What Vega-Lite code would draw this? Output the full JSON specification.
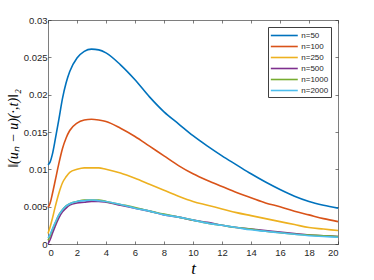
{
  "$schema": "https://vega.github.io/schema/vega-lite/v6.json",
  "width": 290,
  "height": 224,
  "autosize": "none",
  "padding": {"left": 48, "top": 20, "right": 36, "bottom": 36},
  "background": "white",
  "config": {
    "view": {"stroke": null},
    "axis": {
      "domainColor": "#262626",
      "domainWidth": 0.6,
      "tickColor": "#262626",
      "tickWidth": 0.6,
      "tickSize": -3,
      "grid": false,
      "labelFont": "Liberation Sans",
      "labelFontSize": 9.5,
      "labelColor": "#262626",
      "titleColor": "#000000",
      "titleFont": "Liberation Serif",
      "titleFontStyle": "italic",
      "titleFontWeight": "normal"
    },
    "legend": {
      "symbolType": "M-2.45,0H2.45",
      "symbolStrokeWidth": 1.6,
      "symbolSize": 121,
      "symbolOffset": 7.8,
      "labelFont": "Liberation Sans",
      "labelFontSize": 8,
      "labelColor": "#262626",
      "strokeColor": "#404040",
      "fillColor": "white",
      "padding": 2,
      "rowPadding": 0,
      "labelOffset": 10.5,
      "cornerRadius": 0
    }
  },
  "data": {
    "values": [
      {"s": "n=50", "t": 0, "v": 0.0106},
      {"s": "n=50", "t": 0.15, "v": 0.0110},
      {"s": "n=50", "t": 0.3, "v": 0.0120},
      {"s": "n=50", "t": 0.5, "v": 0.0140},
      {"s": "n=50", "t": 0.75, "v": 0.0167},
      {"s": "n=50", "t": 1.0, "v": 0.0195},
      {"s": "n=50", "t": 1.25, "v": 0.0216},
      {"s": "n=50", "t": 1.5, "v": 0.0231},
      {"s": "n=50", "t": 2.0, "v": 0.0249},
      {"s": "n=50", "t": 2.5, "v": 0.0258},
      {"s": "n=50", "t": 3.0, "v": 0.0261},
      {"s": "n=50", "t": 3.5, "v": 0.0260},
      {"s": "n=50", "t": 4, "v": 0.0256},
      {"s": "n=50", "t": 5, "v": 0.0240},
      {"s": "n=50", "t": 6, "v": 0.0220},
      {"s": "n=50", "t": 7, "v": 0.0197},
      {"s": "n=50", "t": 8, "v": 0.0177},
      {"s": "n=50", "t": 9, "v": 0.0161},
      {"s": "n=50", "t": 10, "v": 0.0145},
      {"s": "n=50", "t": 11, "v": 0.0131},
      {"s": "n=50", "t": 12, "v": 0.0118},
      {"s": "n=50", "t": 13, "v": 0.0106},
      {"s": "n=50", "t": 14, "v": 0.0094},
      {"s": "n=50", "t": 15, "v": 0.0083},
      {"s": "n=50", "t": 16, "v": 0.0073},
      {"s": "n=50", "t": 17, "v": 0.0064},
      {"s": "n=50", "t": 18, "v": 0.0057},
      {"s": "n=50", "t": 19, "v": 0.0052},
      {"s": "n=50", "t": 20, "v": 0.0048},

      {"s": "n=100", "t": 0, "v": 0.0049},
      {"s": "n=100", "t": 0.15, "v": 0.0055},
      {"s": "n=100", "t": 0.3, "v": 0.0067},
      {"s": "n=100", "t": 0.5, "v": 0.0085},
      {"s": "n=100", "t": 0.75, "v": 0.0108},
      {"s": "n=100", "t": 1.0, "v": 0.0128},
      {"s": "n=100", "t": 1.25, "v": 0.0142},
      {"s": "n=100", "t": 1.5, "v": 0.0152},
      {"s": "n=100", "t": 2.0, "v": 0.0162},
      {"s": "n=100", "t": 2.5, "v": 0.0166},
      {"s": "n=100", "t": 3.0, "v": 0.0167},
      {"s": "n=100", "t": 3.5, "v": 0.0166},
      {"s": "n=100", "t": 4, "v": 0.0164},
      {"s": "n=100", "t": 5, "v": 0.0155},
      {"s": "n=100", "t": 6, "v": 0.0144},
      {"s": "n=100", "t": 7, "v": 0.0131},
      {"s": "n=100", "t": 8, "v": 0.0118},
      {"s": "n=100", "t": 9, "v": 0.0105},
      {"s": "n=100", "t": 10, "v": 0.0094},
      {"s": "n=100", "t": 11, "v": 0.0085},
      {"s": "n=100", "t": 12, "v": 0.0077},
      {"s": "n=100", "t": 13, "v": 0.0069},
      {"s": "n=100", "t": 14, "v": 0.0062},
      {"s": "n=100", "t": 15, "v": 0.0055},
      {"s": "n=100", "t": 16, "v": 0.0050},
      {"s": "n=100", "t": 17, "v": 0.0044},
      {"s": "n=100", "t": 18, "v": 0.0039},
      {"s": "n=100", "t": 19, "v": 0.0034},
      {"s": "n=100", "t": 20, "v": 0.0030},

      {"s": "n=250", "t": 0, "v": 0.0014},
      {"s": "n=250", "t": 0.15, "v": 0.0023},
      {"s": "n=250", "t": 0.3, "v": 0.0034},
      {"s": "n=250", "t": 0.5, "v": 0.0050},
      {"s": "n=250", "t": 0.75, "v": 0.0068},
      {"s": "n=250", "t": 1.0, "v": 0.0082},
      {"s": "n=250", "t": 1.25, "v": 0.0090},
      {"s": "n=250", "t": 1.5, "v": 0.0096},
      {"s": "n=250", "t": 2.0, "v": 0.0100},
      {"s": "n=250", "t": 2.5, "v": 0.0102},
      {"s": "n=250", "t": 3.0, "v": 0.0102},
      {"s": "n=250", "t": 3.5, "v": 0.0102},
      {"s": "n=250", "t": 4, "v": 0.0100},
      {"s": "n=250", "t": 5, "v": 0.0095},
      {"s": "n=250", "t": 6, "v": 0.0088},
      {"s": "n=250", "t": 7, "v": 0.0080},
      {"s": "n=250", "t": 8, "v": 0.0072},
      {"s": "n=250", "t": 9, "v": 0.0064},
      {"s": "n=250", "t": 10, "v": 0.0057},
      {"s": "n=250", "t": 11, "v": 0.0052},
      {"s": "n=250", "t": 12, "v": 0.0047},
      {"s": "n=250", "t": 13, "v": 0.0042},
      {"s": "n=250", "t": 14, "v": 0.0038},
      {"s": "n=250", "t": 15, "v": 0.0034},
      {"s": "n=250", "t": 16, "v": 0.0030},
      {"s": "n=250", "t": 17, "v": 0.0026},
      {"s": "n=250", "t": 18, "v": 0.0022},
      {"s": "n=250", "t": 19, "v": 0.0020},
      {"s": "n=250", "t": 20, "v": 0.0018},

      {"s": "n=500", "t": 0, "v": 0.0000},
      {"s": "n=500", "t": 0.15, "v": 0.0006},
      {"s": "n=500", "t": 0.3, "v": 0.0014},
      {"s": "n=500", "t": 0.5, "v": 0.0024},
      {"s": "n=500", "t": 0.75, "v": 0.0035},
      {"s": "n=500", "t": 1.0, "v": 0.0043},
      {"s": "n=500", "t": 1.25, "v": 0.0048},
      {"s": "n=500", "t": 1.5, "v": 0.0052},
      {"s": "n=500", "t": 2.0, "v": 0.0055},
      {"s": "n=500", "t": 2.5, "v": 0.0056},
      {"s": "n=500", "t": 3.0, "v": 0.0057},
      {"s": "n=500", "t": 3.5, "v": 0.0057},
      {"s": "n=500", "t": 4, "v": 0.0056},
      {"s": "n=500", "t": 5, "v": 0.0052},
      {"s": "n=500", "t": 6, "v": 0.0048},
      {"s": "n=500", "t": 7, "v": 0.0044},
      {"s": "n=500", "t": 8, "v": 0.0039},
      {"s": "n=500", "t": 9, "v": 0.0036},
      {"s": "n=500", "t": 10, "v": 0.0032},
      {"s": "n=500", "t": 11, "v": 0.0029},
      {"s": "n=500", "t": 12, "v": 0.0025},
      {"s": "n=500", "t": 13, "v": 0.0022},
      {"s": "n=500", "t": 14, "v": 0.0020},
      {"s": "n=500", "t": 15, "v": 0.0018},
      {"s": "n=500", "t": 16, "v": 0.0016},
      {"s": "n=500", "t": 17, "v": 0.0014},
      {"s": "n=500", "t": 18, "v": 0.0012},
      {"s": "n=500", "t": 19, "v": 0.0011},
      {"s": "n=500", "t": 20, "v": 0.0010},

      {"s": "n=1000", "t": 0, "v": 0.0005},
      {"s": "n=1000", "t": 0.15, "v": 0.0011},
      {"s": "n=1000", "t": 0.3, "v": 0.0019},
      {"s": "n=1000", "t": 0.5, "v": 0.0028},
      {"s": "n=1000", "t": 0.75, "v": 0.0039},
      {"s": "n=1000", "t": 1.0, "v": 0.0046},
      {"s": "n=1000", "t": 1.25, "v": 0.0051},
      {"s": "n=1000", "t": 1.5, "v": 0.0054},
      {"s": "n=1000", "t": 2.0, "v": 0.0057},
      {"s": "n=1000", "t": 2.5, "v": 0.0059},
      {"s": "n=1000", "t": 3.0, "v": 0.0059},
      {"s": "n=1000", "t": 3.5, "v": 0.0059},
      {"s": "n=1000", "t": 4, "v": 0.0057},
      {"s": "n=1000", "t": 5, "v": 0.0053},
      {"s": "n=1000", "t": 6, "v": 0.0049},
      {"s": "n=1000", "t": 7, "v": 0.0044},
      {"s": "n=1000", "t": 8, "v": 0.0040},
      {"s": "n=1000", "t": 9, "v": 0.0036},
      {"s": "n=1000", "t": 10, "v": 0.0032},
      {"s": "n=1000", "t": 11, "v": 0.0028},
      {"s": "n=1000", "t": 12, "v": 0.0025},
      {"s": "n=1000", "t": 13, "v": 0.0022},
      {"s": "n=1000", "t": 14, "v": 0.0020},
      {"s": "n=1000", "t": 15, "v": 0.0017},
      {"s": "n=1000", "t": 16, "v": 0.0015},
      {"s": "n=1000", "t": 17, "v": 0.0013},
      {"s": "n=1000", "t": 18, "v": 0.0012},
      {"s": "n=1000", "t": 19, "v": 0.0011},
      {"s": "n=1000", "t": 20, "v": 0.0010},

      {"s": "n=2000", "t": 0, "v": 0.0008},
      {"s": "n=2000", "t": 0.15, "v": 0.0013},
      {"s": "n=2000", "t": 0.3, "v": 0.0020},
      {"s": "n=2000", "t": 0.5, "v": 0.0029},
      {"s": "n=2000", "t": 0.75, "v": 0.0039},
      {"s": "n=2000", "t": 1.0, "v": 0.0046},
      {"s": "n=2000", "t": 1.25, "v": 0.0051},
      {"s": "n=2000", "t": 1.5, "v": 0.0054},
      {"s": "n=2000", "t": 2.0, "v": 0.0057},
      {"s": "n=2000", "t": 2.5, "v": 0.0058},
      {"s": "n=2000", "t": 3.0, "v": 0.0059},
      {"s": "n=2000", "t": 3.5, "v": 0.0058},
      {"s": "n=2000", "t": 4, "v": 0.0057},
      {"s": "n=2000", "t": 5, "v": 0.0053},
      {"s": "n=2000", "t": 6, "v": 0.0048},
      {"s": "n=2000", "t": 7, "v": 0.0044},
      {"s": "n=2000", "t": 8, "v": 0.0039},
      {"s": "n=2000", "t": 9, "v": 0.0036},
      {"s": "n=2000", "t": 10, "v": 0.0032},
      {"s": "n=2000", "t": 11, "v": 0.0028},
      {"s": "n=2000", "t": 12, "v": 0.0025},
      {"s": "n=2000", "t": 13, "v": 0.0022},
      {"s": "n=2000", "t": 14, "v": 0.0019},
      {"s": "n=2000", "t": 15, "v": 0.0017},
      {"s": "n=2000", "t": 16, "v": 0.0015},
      {"s": "n=2000", "t": 17, "v": 0.0013},
      {"s": "n=2000", "t": 18, "v": 0.0011},
      {"s": "n=2000", "t": 19, "v": 0.0010},
      {"s": "n=2000", "t": 20, "v": 0.0009}
    ]
  },
  "layer": [
    {
      "mark": {"type": "line", "strokeWidth": 1.6, "interpolate": "monotone"},
      "encoding": {
        "x": {
          "field": "t", "type": "quantitative",
          "scale": {"domain": [0, 20], "nice": false, "zero": false},
          "axis": {"values": [0, 2, 4, 6, 8, 10, 12, 14, 16, 18, 20], "title": "t", "titleFontSize": 17, "titleY": 24, "titleBaseline": "middle", "labelPadding": 6}
        },
        "y": {
          "field": "v", "type": "quantitative",
          "scale": {"domain": [0, 0.03], "nice": false},
          "axis": {"values": [0, 0.005, 0.01, 0.015, 0.02, 0.025, 0.03], "format": "~g", "title": "‖(uₙ − u)(·,t)‖₂", "titleFontSize": 14, "titleX": -35, "titleY": 108, "titleAngle": -90, "titleBaseline": "middle", "titleAlign": "center", "labelPadding": 4}
        },
        "color": {
          "field": "s", "type": "nominal",
          "scale": {"domain": ["n=50", "n=100", "n=250", "n=500", "n=1000", "n=2000"], "range": ["#0072BD", "#D95319", "#EDB120", "#7E2F8E", "#77AC30", "#4DBEEE"]},
          "legend": {"title": null, "orient": "top-right", "offset": 7}
        },
        "order": {"field": "t", "type": "quantitative"}
      }
    },
    {
      "mark": {"type": "rule", "opacity": 0},
      "encoding": {
        "x": {
          "field": "t", "type": "quantitative",
          "axis": {"orient": "top", "values": [0, 2, 4, 6, 8, 10, 12, 14, 16, 18, 20], "labels": false, "title": null}
        },
        "y": {
          "field": "v", "type": "quantitative",
          "axis": {"orient": "right", "values": [0, 0.005, 0.01, 0.015, 0.02, 0.025, 0.03], "labels": false, "title": null}
        }
      }
    }
  ],
  "resolve": {"axis": {"x": "independent", "y": "independent"}}
}
